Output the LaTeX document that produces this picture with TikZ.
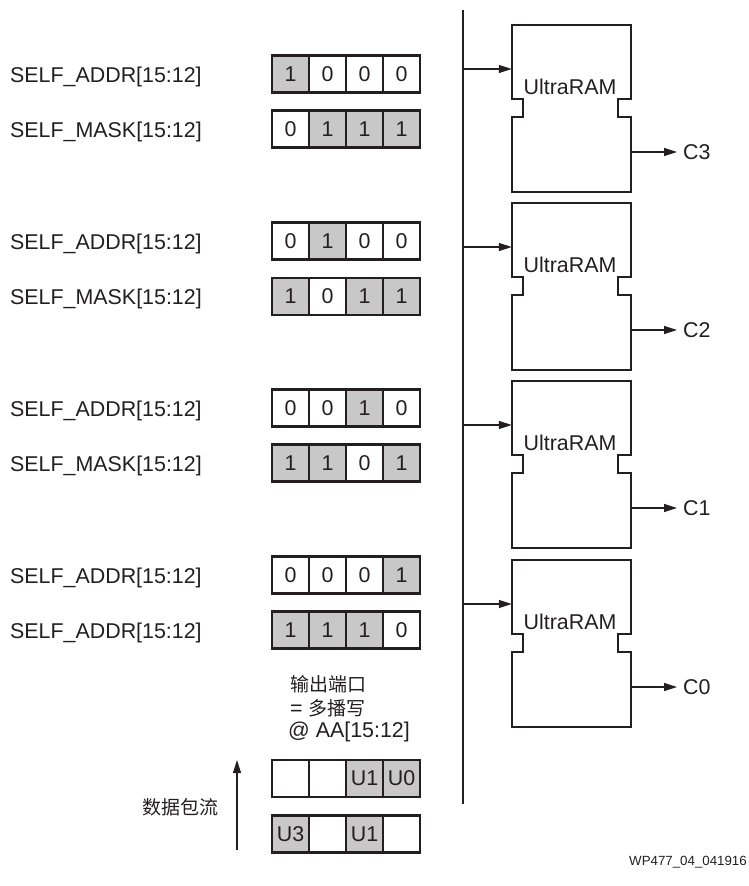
\documentclass[tikz,border=0pt]{standalone}
\usepackage{fontspec}
\setmainfont{Liberation Sans}
\newfontfamily\cjk{Noto Sans CJK SC}
\usetikzlibrary{arrows.meta,calc}
\definecolor{cellgray}{RGB}{200,200,200}
\definecolor{ink}{RGB}{35,31,32}
\newcommand\regrow[3]{%
  \foreach \v/\g [count=\i] in {#3} {
    \node[cell,fill=\g] (#1-\i) at ({272+37*\i-18.5},#2) {\v};
  }%
}
\begin{document}
\begin{tikzpicture}[x=1pt,y=-1pt,
  every node/.style={font=\fontsize{21.4}{25}\selectfont, text=ink},
  cell/.style={draw=ink, line width=2.4pt, minimum width=37pt, minimum height=37pt, inner sep=0pt},
  lab/.style={anchor=west, inner sep=0pt},
  ramline/.style={draw=ink, line width=2.4pt, line join=miter},
  ramframe/.style={minimum width=119pt, minimum height=167pt, inner sep=0pt},
  bus/.style={draw=ink, line width=1.2pt},
  arr/.style={draw=ink, line width=1.2pt, -{Triangle[length=13pt,width=8pt]}},
  cjkt/.style={font=\cjk\fontsize{19}{23}\selectfont}
]
\useasboundingbox (0,0) rectangle (749,886);

% left labels
\node[lab] (l1) at (10,76.5) {SELF\_ADDR[15:12]};
\node[lab] (l2) at (10,131.5) {SELF\_MASK[15:12]};
\node[lab] (l3) at (10,243.5) {SELF\_ADDR[15:12]};
\node[lab] (l4) at (10,299) {SELF\_MASK[15:12]};
\node[lab] (l5) at (10,410.5) {SELF\_ADDR[15:12]};
\node[lab] (l6) at (10,465.5) {SELF\_MASK[15:12]};
\node[lab] (l7) at (10,577.5) {SELF\_ADDR[15:12]};
\node[lab] (l8) at (10,632.5) {SELF\_ADDR[15:12]};

% registers
\regrow{ra}{74}{1/cellgray,0/white,0/white,0/white}
\regrow{rb}{129}{0/white,1/cellgray,1/cellgray,1/cellgray}
\regrow{rc}{241}{0/white,1/cellgray,0/white,0/white}
\regrow{rd}{296.5}{1/cellgray,0/white,1/cellgray,1/cellgray}
\regrow{re}{408}{0/white,0/white,1/cellgray,0/white}
\regrow{rf}{463}{1/cellgray,1/cellgray,0/white,1/cellgray}
\regrow{rg}{575}{0/white,0/white,0/white,1/cellgray}
\regrow{rh}{630}{1/cellgray,1/cellgray,1/cellgray,0/white}

% output port text
\node[lab] (t1) at (290,684) {\cjk\fontsize{19}{23}\selectfont 输出端口};
\node[lab] (t2) at (290,708) {= {\cjk\fontsize{19}{23}\selectfont 多播写}};
\node[lab] (t3) at (288,732) {@ AA[15:12]};

% packets
\regrow{pa}{778.5}{{}/white,{}/white,U1/cellgray,U0/cellgray}
\regrow{pb}{834}{U3/cellgray,{}/white,U1/cellgray,{}/white}

% flow arrow
\coordinate (fb) at (237,850);
\coordinate (ft) at (237,760);
\draw[arr] (fb) -- (ft);
\node[cjkt] (flow) at (180,807) {数据包流};

% bus
\coordinate (bustop) at (463,10);
\coordinate (busbot) at (463,804);
\draw[bus] (bustop) -- (busbot);

% UltraRAM blocks
\foreach \t/\n in {25/3, 203/2, 381/1, 560/0} {
  \node[ramframe] (ram\n) at (571.5,\t+83.5) {};
  \draw[ramline] (512,\t) -- (631,\t) -- (631,\t+74) -- (618,\t+74) -- (618,\t+92)
     -- (631,\t+92) -- (631,\t+167) -- (512,\t+167) -- (512,\t+92) -- (523,\t+92)
     -- (523,\t+74) -- (512,\t+74) -- cycle;
  \node (txt\n) at (570,\t+62) {UltraRAM};
  \coordinate (in\n) at (463,\t+44);
  \draw[arr] (in\n) -- (in\n -| ram\n.west);
  \node[anchor=west, inner sep=6pt] (c\n) at (677,\t+127) {C\n};
  \draw[arr] (ram\n.east |- c\n.west) -- (c\n.west);
}

% figure id
\node[anchor=east, inner sep=0pt, font=\fontsize{13.3}{15}\selectfont] (wp) at (747,862) {WP477\_04\_041916};
\end{tikzpicture}
\end{document}
